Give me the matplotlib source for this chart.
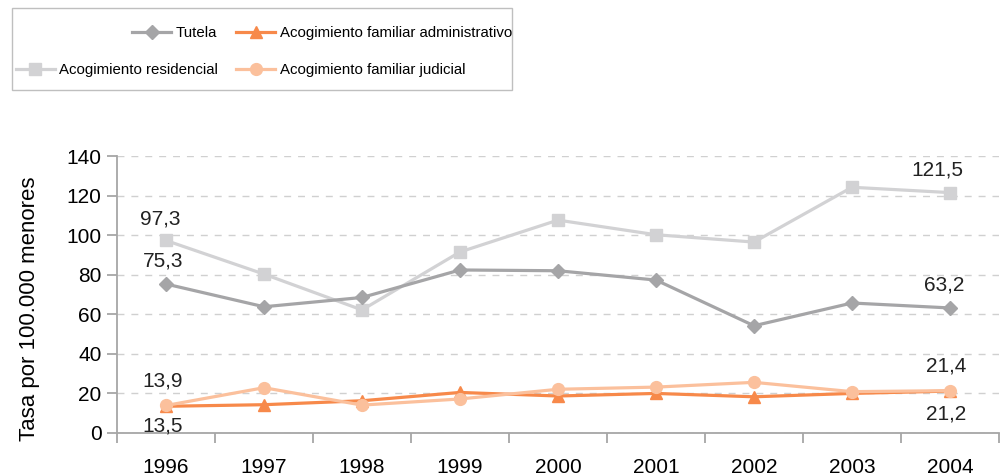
import numpy as np
import matplotlib
matplotlib.use("Agg")
import matplotlib.pyplot as plt
from matplotlib import font_manager
from matplotlib.patches import Rectangle

years = [1996, 1997, 1998, 1999, 2000, 2001, 2002, 2003, 2004]
tutela = [75.3, 63.8, 68.5, 82.4, 82.0, 77.3, 54.2, 65.7, 63.2]
residencial = [97.3, 80.3, 62.2, 91.5, 107.6, 100.2, 96.5, 124.2, 121.5]
fam_admin = [13.5, 14.3, 16.3, 20.5, 18.7, 20.0, 18.3, 20.0, 21.2]
fam_judicial = [13.9, 22.9, 14.1, 17.2, 22.1, 23.2, 25.6, 20.9, 21.4]

plt.rcParams['font.family'] = "Liberation Sans"
plt.rcParams['font.size'] = 15

# legend text in the original is a narrow face
installed = {f.name for f in font_manager.fontManager.ttflist}
if "Liberation Sans Narrow" in installed:
    leg_font = dict(family="Liberation Sans Narrow", size=13)
else:
    leg_font = dict(family="Liberation Sans", size=10.8)

fig = plt.figure(figsize=(10.04, 4.76), dpi=100)
ax = fig.add_axes([117/1004, 1 - 433/476, 882/1004, 277/476])

c_tut = "#a5a5a7"
c_res = "#d2d2d4"
c_adm = "#f7894a"
c_jud = "#fbc09c"

l_res, = ax.plot(years, residencial, color=c_res, lw=2.3, marker="s", ms=9,
                 label="Acogimiento residencial")
l_tut, = ax.plot(years, tutela, color=c_tut, lw=2.3, marker="D", ms=7.5,
                 label="Tutela")
l_jud, = ax.plot(years, fam_judicial, color=c_jud, lw=2.3, marker="o", ms=8.5,
                 label="Acogimiento familiar judicial")
l_adm, = ax.plot(years, fam_admin, color=c_adm, lw=2.3, marker="^", ms=9,
                 label="Acogimiento familiar administrativo")
l_jud.set_zorder(3.1)

ax.set_xlim(1995.5, 2004.5)
ax.set_ylim(0, 140)
ax.set_yticks(np.arange(0, 141, 20))
ax.set_xticks(years)
ax.set_xticks(np.arange(1995.5, 2005, 1), minor=True)
ax.tick_params(axis="x", which="major", length=0, pad=18, labelsize=15)
ax.tick_params(axis="x", which="minor", length=7, width=1.3, color="#a6a6a6")
ax.tick_params(axis="y", length=7, width=1.3, color="#a6a6a6", pad=4, labelsize=15)
ax.grid(axis="y", ls=(0, (5, 5)), color="#d0d0d0", lw=1)
ax.set_axisbelow(True)
for s in ["top", "right"]:
    ax.spines[s].set_visible(False)
for s in ["left", "bottom"]:
    ax.spines[s].set_color("#a6a6a6")
    ax.spines[s].set_linewidth(1.3)
ax.set_ylabel("Tasa por 100.000 menores", fontsize=16)
ax.yaxis.set_label_coords(-0.087, 0.449)

def lab(series, i, dx, dy):
    ax.annotate(f"{series[i]:.1f}".replace(".", ","), (years[i], series[i]),
                xytext=(dx, dy), textcoords="offset pixels",
                ha="center", va="center", fontsize=15, color="#222222")

lab(residencial, 0, -6, 21)
lab(tutela, 0, -3, 23)
lab(fam_judicial, 0, -3, 24)
lab(fam_admin, 0, -3, -20)
lab(residencial, -1, -13, 23)
lab(tutela, -1, -6, 23)
lab(fam_judicial, -1, -4, 25)
lab(fam_admin, -1, -4, -23)

# legend box and entries
fig.add_artist(Rectangle((12/1004, 1 - 90/476), 500/1004, 82/476,
                         transform=fig.transFigure, fill=False,
                         edgecolor="#bfbfbf", lw=1))
kw = dict(frameon=False, borderpad=0, borderaxespad=0, handlelength=2.6,
          handletextpad=0.3, prop=leg_font)
fig.legend(handles=[l_tut], loc="center right",
           bbox_to_anchor=(217/1004, 1 - 33/476), **kw)
fig.legend(handles=[l_res], loc="center right",
           bbox_to_anchor=(218/1004, 1 - 70/476), **kw)
fig.legend(handles=[l_adm], loc="center left",
           bbox_to_anchor=(236/1004, 1 - 33/476), **kw)
fig.legend(handles=[l_jud], loc="center left",
           bbox_to_anchor=(236/1004, 1 - 70/476), **kw)

fig.savefig("out.png", dpi=100)
